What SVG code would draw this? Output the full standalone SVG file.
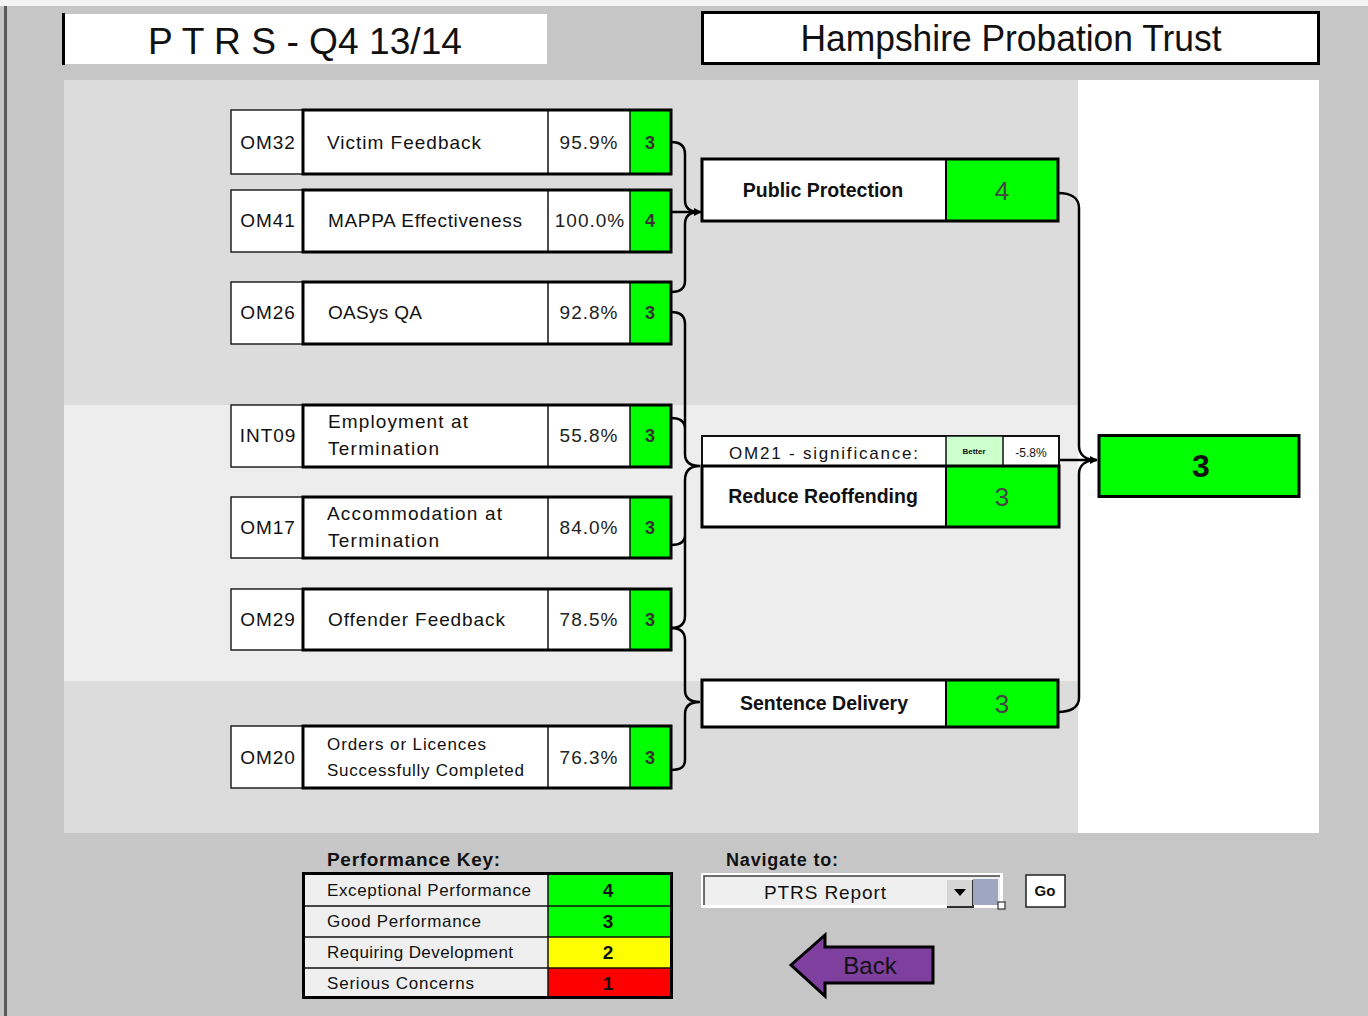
<svg xmlns="http://www.w3.org/2000/svg" width="1368" height="1016" viewBox="0 0 1368 1016">
<style>
text{font-family:"Liberation Sans",Arial,sans-serif;fill:#111}
.code{font-size:19px;letter-spacing:1px;text-anchor:middle}
.name{font-size:19px}
.val{font-size:19px;letter-spacing:1px;text-anchor:middle;fill:#222}
.sc{font-size:18px;font-weight:bold;text-anchor:middle;fill:#333}
.thin{fill:#fff;stroke:#222;stroke-width:1.5}
.thick{fill:none;stroke:#000;stroke-width:3}
.div{stroke:#111;stroke-width:1.5}
.green{fill:#00ff00}
.bold{font-weight:bold;font-size:19.5px;text-anchor:middle}
.big{font-size:26px;text-anchor:middle;fill:#444}
.key{font-size:17px}
.conn{fill:none;stroke:#000;stroke-width:2.5}
</style>
<defs>
<marker id="ah" markerWidth="8" markerHeight="8" refX="7" refY="4" orient="auto" markerUnits="userSpaceOnUse">
<path d="M0,0 L8,4 L0,8 Z" fill="#000"/>
</marker>
</defs>
<rect x="0" y="0" width="1368" height="1016" fill="#c6c6c6"/>
<rect x="0" y="0" width="1368" height="6" fill="#f4f4f4"/>
<rect x="4" y="6" width="3" height="1010" fill="#5a5a5a"/>

<g id="title-left">
<rect x="63" y="14" width="484" height="50" fill="#fff"/>
<rect x="62" y="13" width="3" height="52" fill="#000"/>
<text x="305" y="54" font-size="36" text-anchor="middle" textLength="314" lengthAdjust="spacingAndGlyphs">P T R S - Q4 13/14</text>
</g>
<g id="title-right">
<rect x="702.5" y="12.5" width="616" height="51" fill="#fff" stroke="#000" stroke-width="3"/>
<text x="1011" y="51" font-size="37" text-anchor="middle" textLength="421" lengthAdjust="spacingAndGlyphs">Hampshire Probation Trust</text>
</g>

<g id="panel">
<rect x="64" y="80" width="1014" height="325" fill="#dcdcdc"/>
<rect x="64" y="405" width="1014" height="276" fill="#ededed"/>
<rect x="64" y="681" width="1014" height="152" fill="#dcdcdc"/>
<rect x="1078" y="80" width="241" height="753" fill="#fff"/>
</g>

<g id="connectors">
<path class="conn" d="M671,142 C681,142 685,146 685,154 L685,200 C685,208 690,212 699,212 M699,212 C690,212 685,216 685,224 L685,281 C685,288 681,292 671,292"/>
<path class="conn" d="M671,212 L701,212" marker-end="url(#ah)"/>
<path class="conn" d="M671,312 C681,312 685,316 685,324 L685,454 C685,462 690,466 700,466 M671,418 C680,418 685,421 685,429 M700,466 C690,466 685,471 685,480 L685,616 C685,624 681,628 671,628 M671,545 C680,545 685,542 685,535"/>
<path class="conn" d="M671,628 C681,628 685,632 685,640 L685,690 C685,698 690,702 700,702 M700,702 C690,702 685,706 685,714 L685,760 C685,767 681,770 671,770"/>
<path class="conn" d="M1058,193 C1071,193 1079,198 1079,208 L1079,446 C1079,455 1086,460 1096,460 M1096,460 C1086,460 1079,465 1079,474 L1079,698 C1079,707 1071,712 1058,712"/>
<path class="conn" d="M1059,460 L1097,460" marker-end="url(#ah)"/>
</g>

<g id="om32">
<rect class="thin" x="231" y="110" width="72" height="64"/>
<rect x="303" y="110" width="368" height="64" fill="#fff"/>
<rect class="green" x="630" y="110" width="41" height="64"/>
<line class="div" x1="548" y1="110" x2="548" y2="174"/><line class="div" x1="630" y1="110" x2="630" y2="174"/>
<rect class="thick" x="303" y="110" width="368" height="64"/>
<text class="code" x="268" y="149">OM32</text>
<text class="name" x="327" y="149" textLength="154" lengthAdjust="spacing">Victim Feedback</text>
<text class="val" x="589" y="149">95.9%</text>
<text class="sc" x="650" y="149">3</text>
</g>
<g id="om41">
<rect class="thin" x="231" y="190" width="72" height="62"/>
<rect x="303" y="190" width="368" height="62" fill="#fff"/>
<rect class="green" x="630" y="190" width="41" height="62"/>
<line class="div" x1="548" y1="190" x2="548" y2="252"/><line class="div" x1="630" y1="190" x2="630" y2="252"/>
<rect class="thick" x="303" y="190" width="368" height="62"/>
<text class="code" x="268" y="227">OM41</text>
<text class="name" x="328" y="227" textLength="194" lengthAdjust="spacing">MAPPA Effectiveness</text>
<text class="val" x="590" y="227">100.0%</text>
<text class="sc" x="650" y="227">4</text>
</g>
<g id="om26">
<rect class="thin" x="231" y="282" width="72" height="62"/>
<rect x="303" y="282" width="368" height="62" fill="#fff"/>
<rect class="green" x="630" y="282" width="41" height="62"/>
<line class="div" x1="548" y1="282" x2="548" y2="344"/><line class="div" x1="630" y1="282" x2="630" y2="344"/>
<rect class="thick" x="303" y="282" width="368" height="62"/>
<text class="code" x="268" y="319">OM26</text>
<text class="name" x="328" y="319" textLength="94" lengthAdjust="spacing">OASys QA</text>
<text class="val" x="589" y="319">92.8%</text>
<text class="sc" x="650" y="319">3</text>
</g>
<g id="int09">
<rect class="thin" x="231" y="405" width="72" height="62"/>
<rect x="303" y="405" width="368" height="62" fill="#fff"/>
<rect class="green" x="630" y="405" width="41" height="62"/>
<line class="div" x1="548" y1="405" x2="548" y2="467"/><line class="div" x1="630" y1="405" x2="630" y2="467"/>
<rect class="thick" x="303" y="405" width="368" height="62"/>
<text class="code" x="268" y="442">INT09</text>
<text class="name" x="328" y="428" textLength="140" lengthAdjust="spacing">Employment at</text>
<text class="name" x="328" y="455" textLength="111" lengthAdjust="spacing">Termination</text>
<text class="val" x="589" y="442">55.8%</text>
<text class="sc" x="650" y="442">3</text>
</g>
<g id="om17">
<rect class="thin" x="231" y="497" width="72" height="61"/>
<rect x="303" y="497" width="368" height="61" fill="#fff"/>
<rect class="green" x="630" y="497" width="41" height="61"/>
<line class="div" x1="548" y1="497" x2="548" y2="558"/><line class="div" x1="630" y1="497" x2="630" y2="558"/>
<rect class="thick" x="303" y="497" width="368" height="61"/>
<text class="code" x="268" y="534">OM17</text>
<text class="name" x="327" y="520" textLength="175" lengthAdjust="spacing">Accommodation at</text>
<text class="name" x="328" y="547" textLength="111" lengthAdjust="spacing">Termination</text>
<text class="val" x="589" y="534">84.0%</text>
<text class="sc" x="650" y="534">3</text>
</g>
<g id="om29">
<rect class="thin" x="231" y="589" width="72" height="61"/>
<rect x="303" y="589" width="368" height="61" fill="#fff"/>
<rect class="green" x="630" y="589" width="41" height="61"/>
<line class="div" x1="548" y1="589" x2="548" y2="650"/><line class="div" x1="630" y1="589" x2="630" y2="650"/>
<rect class="thick" x="303" y="589" width="368" height="61"/>
<text class="code" x="268" y="626">OM29</text>
<text class="name" x="328" y="626" textLength="177" lengthAdjust="spacing">Offender Feedback</text>
<text class="val" x="589" y="626">78.5%</text>
<text class="sc" x="650" y="626">3</text>
</g>
<g id="om20">
<rect class="thin" x="231" y="726" width="72" height="62"/>
<rect x="303" y="726" width="368" height="62" fill="#fff"/>
<rect class="green" x="630" y="726" width="41" height="62"/>
<line class="div" x1="548" y1="726" x2="548" y2="788"/><line class="div" x1="630" y1="726" x2="630" y2="788"/>
<rect class="thick" x="303" y="726" width="368" height="62"/>
<text class="code" x="268" y="764">OM20</text>
<text x="327" y="750" font-size="17" textLength="159" lengthAdjust="spacing">Orders or Licences</text>
<text x="327" y="776" font-size="17" textLength="197" lengthAdjust="spacing">Successfully Completed</text>
<text class="val" x="589" y="764">76.3%</text>
<text class="sc" x="650" y="764">3</text>
</g>

<g id="public-protection">
<rect x="702" y="159" width="356" height="62" fill="#fff"/>
<rect class="green" x="946" y="159" width="112" height="62"/>
<line x1="946" y1="159" x2="946" y2="221" stroke="#000" stroke-width="2"/>
<rect class="thick" x="702" y="159" width="356" height="62"/>
<text class="bold" x="823" y="197">Public Protection</text>
<text class="big" x="1002" y="200">4</text>
</g>
<g id="reduce-reoffending">
<rect x="702" y="436" width="357" height="30" fill="#fff" stroke="#111" stroke-width="2"/>
<rect x="946" y="436" width="57" height="30" fill="#ccffcc" stroke="#111" stroke-width="1.5"/>
<text x="729" y="459" font-size="17" textLength="189" lengthAdjust="spacing">OM21 - significance:</text>
<text x="974" y="454" font-size="8" font-weight="bold" text-anchor="middle" fill="#333">Better</text>
<text x="1031" y="457" font-size="12" text-anchor="middle">-5.8%</text>
<rect x="702" y="466" width="357" height="61" fill="#fff"/>
<rect class="green" x="946" y="466" width="113" height="61"/>
<line x1="946" y1="466" x2="946" y2="527" stroke="#000" stroke-width="2"/>
<rect class="thick" x="702" y="466" width="357" height="61"/>
<text class="bold" x="823" y="503">Reduce Reoffending</text>
<text class="big" x="1002" y="506">3</text>
</g>
<g id="sentence-delivery">
<rect x="702" y="680" width="356" height="47" fill="#fff"/>
<rect class="green" x="946" y="680" width="112" height="47"/>
<line x1="946" y1="680" x2="946" y2="727" stroke="#000" stroke-width="2"/>
<rect class="thick" x="702" y="680" width="356" height="47"/>
<text class="bold" x="824" y="710">Sentence Delivery</text>
<text class="big" x="1002" y="713">3</text>
</g>
<g id="overall">
<rect x="1099" y="435.5" width="200" height="61" fill="#00ff00" stroke="#000" stroke-width="3"/>
<text x="1201" y="477" font-size="32" font-weight="bold" text-anchor="middle" fill="#333">3</text>
</g>

<g id="performance-key">
<text x="327" y="866" font-size="19" font-weight="bold" textLength="173" lengthAdjust="spacing">Performance Key:</text>
<rect x="303" y="873" width="245" height="125" fill="#efefef"/>
<rect x="548" y="873" width="124" height="33" fill="#00ff00"/>
<rect x="548" y="906" width="124" height="31" fill="#00ff00"/>
<rect x="548" y="937" width="124" height="31" fill="#ffff00"/>
<rect x="548" y="968" width="124" height="30" fill="#ff0000"/>
<line x1="303" y1="906" x2="672" y2="906" stroke="#111" stroke-width="1.5"/>
<line x1="303" y1="937" x2="672" y2="937" stroke="#111" stroke-width="1.5"/>
<line x1="303" y1="968" x2="672" y2="968" stroke="#111" stroke-width="1.5"/>
<line x1="548" y1="873" x2="548" y2="998" stroke="#111" stroke-width="1.5"/>
<rect class="thick" x="303.5" y="873.5" width="368" height="124"/>
<text class="key" x="327" y="896" textLength="204" lengthAdjust="spacing">Exceptional Performance</text>
<text class="key" x="327" y="927" textLength="154" lengthAdjust="spacing">Good Performance</text>
<text class="key" x="327" y="958" textLength="186" lengthAdjust="spacing">Requiring Development</text>
<text class="key" x="327" y="989" textLength="147" lengthAdjust="spacing">Serious Concerns</text>
<text x="608" y="897" font-size="19" font-weight="bold" text-anchor="middle">4</text>
<text x="608" y="928" font-size="19" font-weight="bold" text-anchor="middle">3</text>
<text x="608" y="959" font-size="19" font-weight="bold" text-anchor="middle">2</text>
<text x="608" y="990" font-size="19" font-weight="bold" text-anchor="middle">1</text>
</g>

<g id="navigate">
<text x="726" y="866" font-size="18" font-weight="bold" textLength="112" lengthAdjust="spacing">Navigate to:</text>
<rect x="701" y="873" width="302" height="35" fill="#fff"/>
<rect x="704" y="876" width="296" height="29" fill="#efefef"/>
<path d="M704,905 L704,876 L1000,876" fill="none" stroke="#404040" stroke-width="1.5"/>
<rect x="947" y="880" width="26" height="27" fill="#d6d6d6"/>
<path d="M947,907 L973,907 L973,880" fill="none" stroke="#303030" stroke-width="2"/>
<path d="M954,889 L966,889 L960,896 Z" fill="#000"/>
<rect x="973" y="879" width="25" height="26" fill="#9ea6c2"/>
<rect x="998" y="902" width="7" height="7" fill="#fff" stroke="#333" stroke-width="1.2"/>
<text x="825" y="899" font-size="19" text-anchor="middle" textLength="122" lengthAdjust="spacing">PTRS Report</text>
</g>
<g id="go-button">
<rect x="1026" y="875" width="39" height="32" fill="#fff" stroke="#222" stroke-width="1.5"/>
<text x="1045" y="896" font-size="15" font-weight="bold" text-anchor="middle">Go</text>
</g>
<g id="back-button">
<polygon points="791,965 825,935 825,947 933,947 933,983 825,983 825,996" fill="#7e3f9f" stroke="#000" stroke-width="3" stroke-linejoin="miter"/>
<text x="870" y="974" font-size="24" text-anchor="middle" fill="#f2eaf8">Back</text>
</g>
</svg>
